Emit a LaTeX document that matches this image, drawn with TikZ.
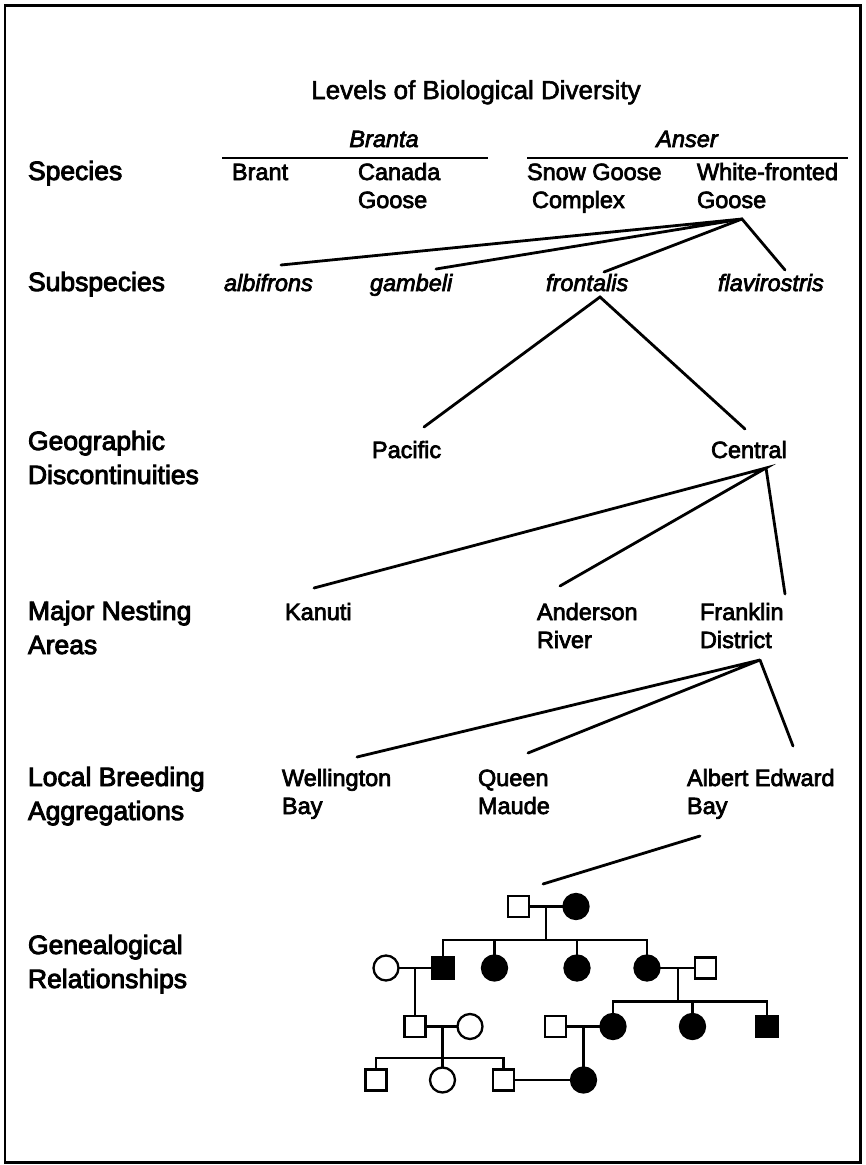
\documentclass[tikz,border=0pt]{standalone}
\usepackage{fontspec}
\setmainfont[FakeBold=3.0]{Liberation Sans}
\newfontfamily\rowfont[FakeBold=3.4]{Liberation Sans}
\newfontfamily\headfont[FakeBold=2.2]{Liberation Sans}
\newcommand{\twolines}[2]{\begin{tabular}[t]{@{}l@{}}#1\\#2\end{tabular}}
\begin{document}
\begin{tikzpicture}[x=1pt,y=-1pt,
  every node/.style={inner sep=0pt,outer sep=0pt},
  titletext/.style={anchor=base,font=\headfont\fontsize{26}{30}\selectfont},
  rowlabel/.style={anchor=base west,font=\rowfont\fontsize{26.5}{34}\selectfont},
  taxon/.style={anchor=base west,font=\fontsize{23.5}{28}\selectfont},
  subsp/.style={anchor=base west,font=\itshape\fontsize{23.5}{28}\selectfont},
  genus/.style={anchor=base,font=\itshape\fontsize{23.5}{28}\selectfont},
  link/.style={line width=2.8pt,line cap=round},
  ped/.style={line width=2.3pt},
  male/.style={draw,line width=2.3pt,rectangle,minimum size=21pt,fill=white},
  female/.style={draw,line width=2.3pt,circle,minimum size=25pt,fill=white},
  affected/.style={fill=black}
]
\useasboundingbox (0,0) rectangle (866,1165);
\draw[line width=2.6pt] (5,5.3) rectangle (860.7,1162.5);

% heading and genera
\node[titletext] (title) at (476,99) {Levels of Biological Diversity};
\node[genus] (branta) at (384,147) {Branta};
\node[genus] (anser) at (687,147) {Anser};
\coordinate (brL) at (222,158); \coordinate (brR) at (488,158);
\coordinate (anL) at (527,158); \coordinate (anR) at (848,158);
\draw[link,line cap=butt] (brL) -- (brR);
\draw[link,line cap=butt] (anL) -- (anR);

% row labels
\node[rowlabel] (lSpecies) at (28,180) {Species};
\node[rowlabel] (lSubspecies) at (28,291) {Subspecies};
\node[rowlabel] (lGeo) at (28,450) {\twolines{Geographic}{Discontinuities}};
\node[rowlabel] (lNest) at (28,620) {\twolines{Major Nesting}{Areas}};
\node[rowlabel] (lLocal) at (28,786) {\twolines{Local Breeding}{Aggregations}};
\node[rowlabel] (lGene) at (28,954) {\twolines{Genealogical}{Relationships}};

% species
\node[taxon] (brant) at (232,180) {Brant};
\node[taxon] (canada) at (358,180) {\twolines{Canada}{Goose}};
\node[taxon] (snow) at (527,180) {\twolines{Snow Goose}{\hspace*{5pt}Complex}};
\node[taxon] (whitefr) at (697,180) {\twolines{White-fronted}{Goose}};

% subspecies
\node[subsp] (albifrons) at (224,291) {albifrons};
\node[subsp] (gambeli) at (370,291) {gambeli};
\node[subsp] (frontalis) at (546,291) {frontalis};
\node[subsp] (flavirostris) at (718,291) {flavirostris};

\coordinate (wfApex) at (742,219);
\coordinate (toAlb) at (281,265);
\coordinate (toGam) at (436,269);
\coordinate (toFro) at (604,272);
\coordinate (toFla) at (785,270);
\draw[link] (toAlb) -- (wfApex) -- (toGam);
\draw[link] (toFro) -- (wfApex) -- (toFla);

% geographic discontinuities
\node[taxon] (pacific) at (372,458) {Pacific};
\node[taxon] (central) at (711,458) {Central};
\coordinate (froApex) at (600,297);
\coordinate (toPac) at (424,427);
\coordinate (toCen) at (745,429);
\draw[link] (toPac) -- (froApex) -- (toCen);

% major nesting areas
\node[taxon] (kanuti) at (285,620) {Kanuti};
\node[taxon] (anderson) at (537,620) {\twolines{Anderson}{River}};
\node[taxon] (franklin) at (700,620) {\twolines{Franklin}{District}};
\coordinate (cenApex) at (766,468);
\coordinate (toKan) at (314,588);
\coordinate (toAnd) at (560,586);
\coordinate (toFra) at (785,594);
\draw[link] (toKan) -- (cenApex) -- (toAnd);
\draw[link] (cenApex) -- (toFra);

% local breeding aggregations
\node[taxon] (wellington) at (282,786) {\twolines{Wellington}{Bay}};
\node[taxon] (queen) at (478,786) {\twolines{Queen}{Maude}};
\node[taxon] (albert) at (687,786) {\twolines{Albert Edward}{Bay}};
\coordinate (fraApex) at (760,660);
\coordinate (toWel) at (357,757);
\coordinate (toQue) at (528,753);
\coordinate (toAlt) at (793,746);
\draw[link] (toWel) -- (fraApex) -- (toQue);
\draw[link] (fraApex) -- (toAlt);

% link down to the pedigree
\coordinate (bayFoot) at (700,836);
\coordinate (pedTop) at (543,884);
\draw[link] (bayFoot) -- (pedTop);

% pedigree, generation I
\node[male] (g1m) at (518.5,906.5) {};
\node[female,affected] (g1f) at (576,906.5) {};
% generation II
\node[female] (g2a) at (386,968) {};
\node[male,affected] (g2b) at (443,968) {};
\node[female,affected] (g2c) at (494.5,968) {};
\node[female,affected] (g2d) at (577,968) {};
\node[female,affected] (g2e) at (647,968) {};
\node[male] (g2f) at (705.5,968) {};
% generation III
\node[male] (g3a) at (415,1026.5) {};
\node[female] (g3b) at (470,1026.5) {};
\node[male] (g3c) at (555.5,1026.5) {};
\node[female,affected] (g3d) at (613,1026.5) {};
\node[female,affected] (g3e) at (692.5,1026.5) {};
\node[male,affected] (g3f) at (767,1026.5) {};
% generation IV
\node[male] (g4a) at (376,1080) {};
\node[female] (g4b) at (442.5,1080) {};
\node[male] (g4c) at (503.5,1080) {};
\node[female,affected] (g4d) at (583.5,1080) {};

% matings
\draw[ped] (g1m.east) -- (g1f.west);
\draw[ped] (g2a.east) -- (g2b.west);
\draw[ped] (g2e.east) -- (g2f.west);
\draw[ped] (g3a.east) -- (g3b.west);
\draw[ped] (g3c.east) -- (g3d.west);
\draw[ped] (g4c.east) -- (g4d.west);

% descent from generation I
\coordinate (s1) at (546,940);
\draw[ped] (546,906.5) -- (s1);
\draw[ped] (g2b.north) |- (s1) -| (g2e.north);
\draw[ped] (g2c.north) -- (g2c.north |- s1);
\draw[ped] (g2d.north) -- (g2d.north |- s1);
% descent from generation II
\draw[ped] (g3a.north |- g2a) -- (g3a.north);
\coordinate (s2) at (678,1001.5);
\draw[ped] (678,968) -- (s2);
\draw[ped] (g3d.north) |- (s2) -| (g3f.north);
\draw[ped] (g3e.north) -- (g3e.north |- s2);
% descent from generation III
\coordinate (s3) at (g4b.north |- 0,1058);
\draw[ped] (g4b.north |- g3a) -- (g4b.north);
\draw[ped] (g4a.north) |- (s3) -| (g4c.north);
\draw[ped] (g4d.north |- g3c) -- (g4d.north);
\end{tikzpicture}
\end{document}
